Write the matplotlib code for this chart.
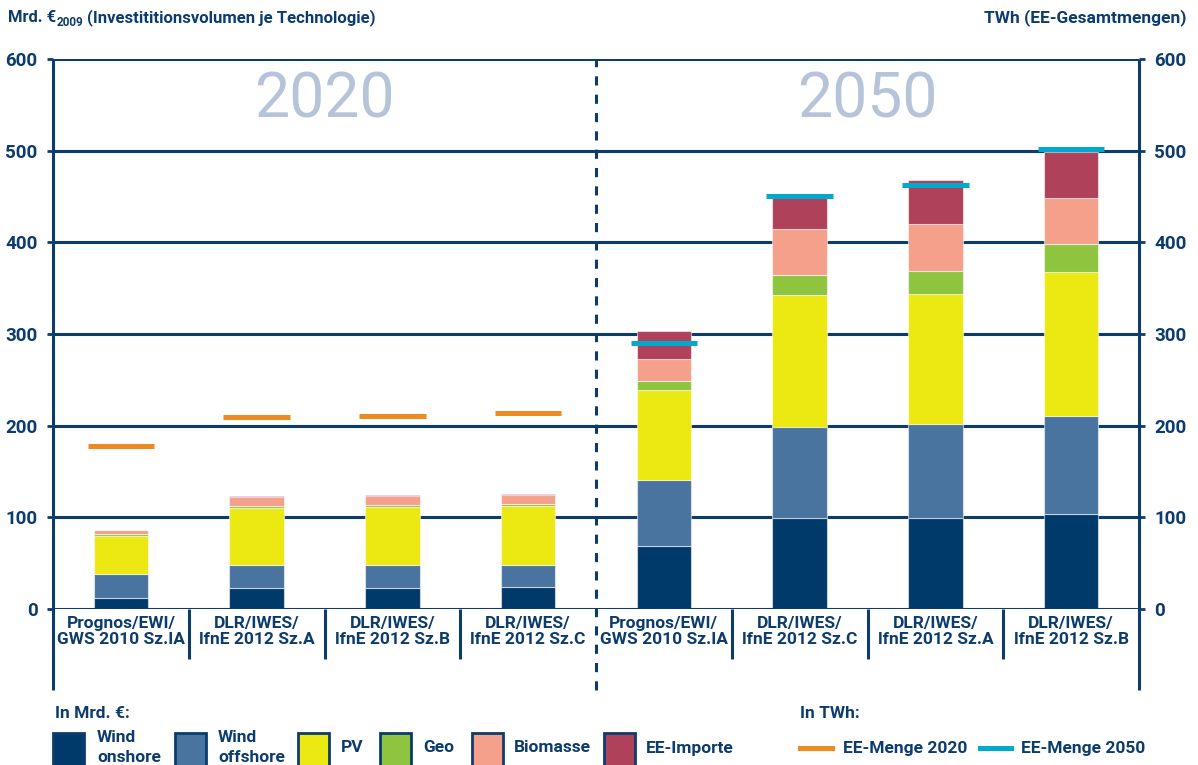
import matplotlib
matplotlib.use('Agg')
import matplotlib.pyplot as plt
from matplotlib import font_manager
from matplotlib.patches import Rectangle
from matplotlib.lines import Line2D

installed = {f.name for f in font_manager.fontManager.ttflist}
FONT = 'Roboto' if 'Roboto' in installed else 'DejaVu Sans'
plt.rcParams['font.family'] = [FONT, 'DejaVu Sans']

# ---- data (Mrd. EUR 2009 and TWh) ----
scenarios = ['Prognos/EWI/\nGWS 2010 Sz.IA', 'DLR/IWES/\nlfnE 2012 Sz.A',
             'DLR/IWES/\nlfnE 2012 Sz.B', 'DLR/IWES/\nlfnE 2012 Sz.C',
             'Prognos/EWI/\nGWS 2010 Sz.IA', 'DLR/IWES/\nlfnE 2012 Sz.C',
             'DLR/IWES/\nlfnE 2012 Sz.A', 'DLR/IWES/\nlfnE 2012 Sz.B']
technologies = ['Wind\nonshore', 'Wind\noffshore', 'PV', 'Geo', 'Biomasse', 'EE-Importe']
wind_onshore = [12, 23, 23, 24.5, 69, 99, 99, 104]
wind_offshore = [26, 25.5, 24.5, 24, 72, 100, 103, 106]
pv = [42, 62, 64, 64, 98, 144, 142, 158]
geo = [2, 2, 2, 2, 10, 21, 25, 30]
biomasse = [4, 10, 10, 10, 24, 51, 51, 50]
ee_importe = [0, 1, 1, 1, 30, 34, 48, 51]
ee_menge_2020 = [177.5, 210, 211, 213.5]
ee_menge_2050 = [290, 451, 463, 502]
years = ['2020', '2050']

NAVY = '#0c3c6e'
colors = ['#003a6b', '#4a74a0', '#ece812', '#8fc43e', '#f5a08a', '#b0415a']
ORANGE = '#ee8a22'
CYAN = '#00aacc'

W, H = 1198, 765
fx = lambda px: px / W
fy = lambda py: 1 - py / H

fig = plt.figure(figsize=(W / 100, H / 100), dpi=100)
ax = fig.add_axes([fx(53), fy(609), (1139 - 53) / W, 550 / H])
ax.set_xlim(-0.5, 7.5)
ax.set_ylim(0, 600)
for s in ax.spines.values():
    s.set_visible(False)

x = list(range(len(scenarios)))

# grid lines
ax.hlines(range(100, 601, 100), -0.5, 7.5, color=NAVY, lw=2.2, zorder=1)
ax.hlines(0, -0.5, 7.5, color=NAVY, lw=2.2, zorder=3)

# stacked bars
bottom = [0] * len(x)
for series, c in zip([wind_onshore, wind_offshore, pv, geo, biomasse, ee_importe], colors):
    ax.bar(x, series, 0.4, bottom=bottom, color=c, edgecolor=(1, 1, 1, 0.55),
           linewidth=0.8, zorder=2)
    bottom = [b + v for b, v in zip(bottom, series)]

# EE-Menge markers
ax.hlines(ee_menge_2020, [i - 0.245 for i in x[:4]], [i + 0.245 for i in x[:4]],
          color=ORANGE, lw=3.6, zorder=4)
ax.hlines(ee_menge_2050, [i - 0.245 for i in x[4:]], [i + 0.245 for i in x[4:]],
          color=CYAN, lw=3.6, zorder=4)

# vertical frame lines extended below the axis
xt = ax.get_xaxis_transform()
ax.vlines([-0.5, 7.5], -0.147, 1, color=NAVY, lw=2.2, transform=xt, clip_on=False, zorder=5)
ax.vlines([0.5, 1.5, 2.5, 4.5, 5.5, 6.5], -0.09, 0, color=NAVY, lw=2.2,
          transform=xt, clip_on=False, zorder=5)
ax.vlines(3.5, -0.147, 1, color=NAVY, lw=2.2, linestyles=(0, (3, 3)),
          transform=xt, clip_on=False, zorder=5)

# y ticks both sides
ax.set_yticks(range(0, 601, 100))
ax.tick_params(axis='y', direction='out', length=4, width=2, color=NAVY,
               labelcolor=NAVY, labelsize=13.5, left=True, right=True,
               labelleft=True, labelright=True)
ax.tick_params(axis='y', which='major', pad=7)
for t in ax.yaxis.get_major_ticks():
    t.label1.set_fontweight('bold')
    t.label2.set_fontweight('bold')
    t.label2.set_horizontalalignment('left')

# x labels
ax.set_xticks(x, scenarios)
ax.tick_params(axis='x', length=0, pad=5, labelsize=12.5, labelcolor=NAVY)
for lab in ax.get_xticklabels():
    lab.set_fontweight('bold')
    lab.set_linespacing(1.1)

# big year labels
for xp, yr in zip([1.5, 5.5], years):
    ax.text(xp, 0.925, yr, transform=xt, ha='center', va='center',
            fontsize=45, color='#b5c4d8', zorder=0)

# headers
renderer = fig.canvas.get_renderer()
t1 = fig.text(fx(8), fy(18), 'Mrd. €', ha='left', va='center', fontsize=12,
              fontweight='bold', color=NAVY)
x1 = t1.get_window_extent(renderer).x1
t2 = fig.text((x1 + 1) / W, fy(23), '2009', ha='left', va='center', fontsize=8.5,
              fontweight='bold', color=NAVY)
x2 = t2.get_window_extent(renderer).x1
fig.text((x2 + 3) / W, fy(18), '(Investititionsvolumen je Technologie)', ha='left',
         va='center', fontsize=12, fontweight='bold', color=NAVY)
fig.text(fx(1186), fy(18), 'TWh (EE-Gesamtmengen)', ha='right', va='center',
         fontsize=12.5, fontweight='bold', color=NAVY)

# legend
fs_leg = 12.5
fig.text(fx(55), fy(713), 'In Mrd. €:', ha='left', va='center', fontsize=fs_leg,
         fontweight='bold', color=NAVY)
fig.text(fx(800), fy(713), 'In TWh:', ha='left', va='center', fontsize=fs_leg,
         fontweight='bold', color=NAVY)
patch_x = [53, 175, 298, 380, 472, 604]
text_x = [97, 218, 341, 423, 514, 646]
for px, tx, name, c in zip(patch_x, text_x, technologies, colors):
    fig.patches.append(Rectangle((fx(px), fy(767)), 31 / W, 34 / H, facecolor=c,
                                 edgecolor=NAVY, lw=2, transform=fig.transFigure))
    lines = name.split('\n')
    if len(lines) == 1:
        fig.text(fx(tx), fy(748), lines[0], ha='left', va='center', fontsize=fs_leg,
                 fontweight='bold', color=NAVY)
    else:
        for k, ln in enumerate(lines):
            fig.text(fx(tx), fy(738 + 19 * k), ln, ha='left', va='center',
                     fontsize=fs_leg, fontweight='bold', color=NAVY)
for (x0, x1_), tx, lbl, c in zip([(800, 832), (980, 1011)], [843, 1021],
                                 ['EE-Menge 2020', 'EE-Menge 2050'], [ORANGE, CYAN]):
    fig.lines.append(Line2D([fx(x0), fx(x1_)], [fy(748), fy(748)], color=c, lw=3.6,
                            transform=fig.transFigure))
    fig.text(fx(tx), fy(748), lbl, ha='left', va='center', fontsize=fs_leg,
             fontweight='bold', color=NAVY)

fig.savefig('out.png', dpi=100)
